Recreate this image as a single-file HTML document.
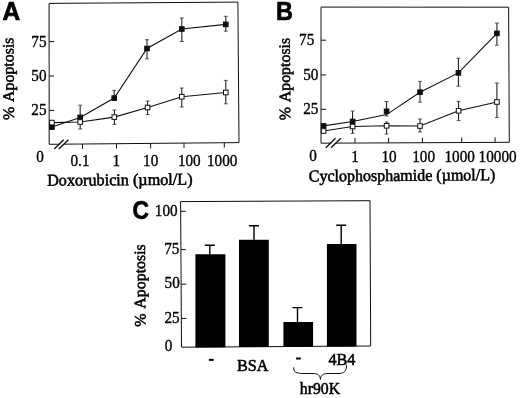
<!DOCTYPE html>
<html><head><meta charset="utf-8"><title>Figure</title>
<style>html,body{margin:0;padding:0;background:#fff}svg{display:block}</style></head>
<body><svg width="520" height="398" viewBox="0 0 520 398">
<defs><filter id="soft" x="0" y="0" width="520" height="398" filterUnits="userSpaceOnUse"><feGaussianBlur stdDeviation="0.3"/></filter></defs>
<rect width="520" height="398" fill="#fff"/>
<g filter="url(#soft)">
<path d="M49.1 3.4L237.9 2.1L239 142.6L49.2 144.3Z" fill="none" stroke="#111" stroke-width="1"/>
<path d="M49.1 41.6h5" stroke="#111" stroke-width="1"/>
<path d="M49.1 76h5" stroke="#111" stroke-width="1"/>
<path d="M49.1 110.4h5" stroke="#111" stroke-width="1"/>
<path d="M82.5 144.0V148.9" stroke="#111" stroke-width="1"/>
<path d="M116.5 143.7V148.6" stroke="#111" stroke-width="1"/>
<path d="M150.6 143.4V148.3" stroke="#111" stroke-width="1"/>
<path d="M184 143.1V148.0" stroke="#111" stroke-width="1"/>
<path d="M224.3 142.7V147.6" stroke="#111" stroke-width="1"/>
<path d="M56.6 149l9.5-9.3" stroke="#fff" stroke-width="2.6"/>
<path d="M54.3 149l9.4-9.3M58.8 149l9.7-9.3" stroke="#111" stroke-width="1.3"/>
<polyline points="51.9,127.1 80.2,117.4 114.2,98.1 147.0,48.5 181.8,29.0 225.8,24.4" fill="none" stroke="#111" stroke-width="1.1"/>
<polyline points="51.9,122.6 80.2,122.0 114.3,117.1 147.6,107.5 181.8,96.7 225.8,92.5" fill="none" stroke="#111" stroke-width="1.1"/>
<path d="M80.2 105.2V118.0" stroke="#111" stroke-width="1" fill="none"/><path d="M78.2 105.2H82.2M78.2 118.0H82.2" stroke="#333" stroke-width="0.8" fill="none"/>
<path d="M114.2 90.4V98.0" stroke="#111" stroke-width="1" fill="none"/><path d="M112.2 90.4H116.2M112.2 98.0H116.2" stroke="#333" stroke-width="0.8" fill="none"/>
<path d="M147.0 39.7V58.8" stroke="#111" stroke-width="1" fill="none"/><path d="M145.0 39.7H149.0M145.0 58.8H149.0" stroke="#333" stroke-width="0.8" fill="none"/>
<path d="M181.8 18.0V41.5" stroke="#111" stroke-width="1" fill="none"/><path d="M179.8 18.0H183.8M179.8 41.5H183.8" stroke="#333" stroke-width="0.8" fill="none"/>
<path d="M225.8 16.3V31.2" stroke="#111" stroke-width="1" fill="none"/><path d="M223.8 16.3H227.8M223.8 31.2H227.8" stroke="#333" stroke-width="0.8" fill="none"/>
<path d="M80.2 118.0V129.0" stroke="#111" stroke-width="1" fill="none"/><path d="M78.2 118.0H82.2M78.2 129.0H82.2" stroke="#333" stroke-width="0.8" fill="none"/>
<path d="M114.4 110.0V124.4" stroke="#111" stroke-width="1" fill="none"/><path d="M112.4 110.0H116.4M112.4 124.4H116.4" stroke="#333" stroke-width="0.8" fill="none"/>
<path d="M147.6 101.0V114.6" stroke="#111" stroke-width="1" fill="none"/><path d="M145.6 101.0H149.6M145.6 114.6H149.6" stroke="#333" stroke-width="0.8" fill="none"/>
<path d="M181.8 88.0V107.0" stroke="#111" stroke-width="1" fill="none"/><path d="M179.8 88.0H183.8M179.8 107.0H183.8" stroke="#333" stroke-width="0.8" fill="none"/>
<path d="M225.8 80.4V103.8" stroke="#111" stroke-width="1" fill="none"/><path d="M223.8 80.4H227.8M223.8 103.8H227.8" stroke="#333" stroke-width="0.8" fill="none"/>
<rect x="49.6" y="124.8" width="4.6" height="4.6" fill="#111" stroke="#111" stroke-width="1"/>
<rect x="77.9" y="115.1" width="4.6" height="4.6" fill="#111" stroke="#111" stroke-width="1"/>
<rect x="111.9" y="95.8" width="4.6" height="4.6" fill="#111" stroke="#111" stroke-width="1"/>
<rect x="144.7" y="46.2" width="4.6" height="4.6" fill="#111" stroke="#111" stroke-width="1"/>
<rect x="179.5" y="26.7" width="4.6" height="4.6" fill="#111" stroke="#111" stroke-width="1"/>
<rect x="223.5" y="22.1" width="4.6" height="4.6" fill="#111" stroke="#111" stroke-width="1"/>
<rect x="49.6" y="120.3" width="4.6" height="4.6" fill="#fff" stroke="#111" stroke-width="1"/>
<rect x="77.9" y="119.7" width="4.6" height="4.6" fill="#fff" stroke="#111" stroke-width="1"/>
<rect x="112.0" y="114.8" width="4.6" height="4.6" fill="#fff" stroke="#111" stroke-width="1"/>
<rect x="145.3" y="105.2" width="4.6" height="4.6" fill="#fff" stroke="#111" stroke-width="1"/>
<rect x="179.5" y="94.4" width="4.6" height="4.6" fill="#fff" stroke="#111" stroke-width="1"/>
<rect x="223.5" y="90.2" width="4.6" height="4.6" fill="#fff" stroke="#111" stroke-width="1"/>
<path d="M321 7.1L508.6 7.2L509.3 142.3L321 143.2Z" fill="none" stroke="#111" stroke-width="1"/>
<path d="M321 40.2h5" stroke="#111" stroke-width="1"/>
<path d="M321 74.9h5" stroke="#111" stroke-width="1"/>
<path d="M321 109.3h5" stroke="#111" stroke-width="1"/>
<path d="M355 143.0V138.0" stroke="#111" stroke-width="1"/>
<path d="M388.6 142.9V137.9" stroke="#111" stroke-width="1"/>
<path d="M422.4 142.7V137.7" stroke="#111" stroke-width="1"/>
<path d="M461.7 142.5V137.5" stroke="#111" stroke-width="1"/>
<path d="M495.1 142.4V137.4" stroke="#111" stroke-width="1"/>
<path d="M328.4 147.8l9.7-9.6" stroke="#fff" stroke-width="2.6"/>
<path d="M325.8 147.8l9.7-9.6M331 147.8l9.9-9.6" stroke="#111" stroke-width="1.3"/>
<polyline points="323.6,125.9 352.6,121.5 386.6,114.6 420.0,92.2 458.4,72.9 496.9,33.4" fill="none" stroke="#111" stroke-width="1.1"/>
<polyline points="323.6,131.0 352.6,126.5 386.6,125.8 420.0,126.0 458.6,110.8 496.9,102.0" fill="none" stroke="#111" stroke-width="1.1"/>
<path d="M352.6 111.0V124.0" stroke="#111" stroke-width="1" fill="none"/><path d="M350.6 111.0H354.6M350.6 124.0H354.6" stroke="#333" stroke-width="0.8" fill="none"/>
<path d="M386.6 101.5V116.0" stroke="#111" stroke-width="1" fill="none"/><path d="M384.6 101.5H388.6M384.6 116.0H388.6" stroke="#333" stroke-width="0.8" fill="none"/>
<path d="M420.0 81.4V102.2" stroke="#111" stroke-width="1" fill="none"/><path d="M418.0 81.4H422.0M418.0 102.2H422.0" stroke="#333" stroke-width="0.8" fill="none"/>
<path d="M458.4 58.3V86.2" stroke="#111" stroke-width="1" fill="none"/><path d="M456.4 58.3H460.4M456.4 86.2H460.4" stroke="#333" stroke-width="0.8" fill="none"/>
<path d="M496.9 23.1V45.2" stroke="#111" stroke-width="1" fill="none"/><path d="M494.9 23.1H498.9M494.9 45.2H498.9" stroke="#333" stroke-width="0.8" fill="none"/>
<path d="M352.6 123.0V133.4" stroke="#111" stroke-width="1" fill="none"/><path d="M350.6 123.0H354.6M350.6 133.4H354.6" stroke="#333" stroke-width="0.8" fill="none"/>
<path d="M386.6 122.0V134.0" stroke="#111" stroke-width="1" fill="none"/><path d="M384.6 122.0H388.6M384.6 134.0H388.6" stroke="#333" stroke-width="0.8" fill="none"/>
<path d="M420.0 119.0V132.0" stroke="#111" stroke-width="1" fill="none"/><path d="M418.0 119.0H422.0M418.0 132.0H422.0" stroke="#333" stroke-width="0.8" fill="none"/>
<path d="M458.6 101.3V120.6" stroke="#111" stroke-width="1" fill="none"/><path d="M456.6 101.3H460.6M456.6 120.6H460.6" stroke="#333" stroke-width="0.8" fill="none"/>
<path d="M496.9 83.0V117.6" stroke="#111" stroke-width="1" fill="none"/><path d="M494.9 83.0H498.9M494.9 117.6H498.9" stroke="#333" stroke-width="0.8" fill="none"/>
<rect x="321.3" y="123.6" width="4.6" height="4.6" fill="#111" stroke="#111" stroke-width="1"/>
<rect x="350.3" y="119.2" width="4.6" height="4.6" fill="#111" stroke="#111" stroke-width="1"/>
<rect x="384.3" y="109.0" width="4.6" height="4.6" fill="#111" stroke="#111" stroke-width="1"/>
<rect x="417.7" y="89.9" width="4.6" height="4.6" fill="#111" stroke="#111" stroke-width="1"/>
<rect x="456.1" y="70.6" width="4.6" height="4.6" fill="#111" stroke="#111" stroke-width="1"/>
<rect x="494.6" y="31.1" width="4.6" height="4.6" fill="#111" stroke="#111" stroke-width="1"/>
<rect x="321.3" y="128.7" width="4.6" height="4.6" fill="#fff" stroke="#111" stroke-width="1"/>
<rect x="350.3" y="124.2" width="4.6" height="4.6" fill="#fff" stroke="#111" stroke-width="1"/>
<rect x="384.3" y="123.5" width="4.6" height="4.6" fill="#fff" stroke="#111" stroke-width="1"/>
<rect x="417.7" y="123.7" width="4.6" height="4.6" fill="#fff" stroke="#111" stroke-width="1"/>
<rect x="456.3" y="108.5" width="4.6" height="4.6" fill="#fff" stroke="#111" stroke-width="1"/>
<rect x="494.6" y="99.7" width="4.6" height="4.6" fill="#fff" stroke="#111" stroke-width="1"/>
<path d="M180.6 201.6L370 200.7L370.7 346L181.5 347.2Z" fill="none" stroke="#111" stroke-width="1"/>
<path d="M180.7 211.3h5" stroke="#111" stroke-width="1"/>
<path d="M180.9 249.6h5" stroke="#111" stroke-width="1"/>
<path d="M181.1 284.2h5" stroke="#111" stroke-width="1"/>
<path d="M181.3 318.4h5" stroke="#111" stroke-width="1"/>
<path d="M195.4 254.3H225.4V347.2L195.4 347.4Z" fill="#000"/>
<path d="M209.8 254.3V245.3M204.8 245.3H214.8" stroke="#000" stroke-width="1.4" fill="none"/>
<path d="M239 239.7H268.8V346.9L239 347.1Z" fill="#000"/>
<path d="M254 239.7V225.7M249 225.7H259" stroke="#000" stroke-width="1.4" fill="none"/>
<path d="M283.4 322.1H313.1V346.7L283.4 346.9Z" fill="#000"/>
<path d="M297.5 322.1V307.6M292.5 307.6H302.5" stroke="#000" stroke-width="1.4" fill="none"/>
<path d="M326.9 244H356.5V346.4L326.9 346.6Z" fill="#000"/>
<path d="M341.2 244V225.2M336.2 225.2H346.2" stroke="#000" stroke-width="1.4" fill="none"/>
<rect x="208.9" y="358.9" width="4.7" height="2" fill="#000"/>
<rect x="296.1" y="357.5" width="4.6" height="2" fill="#000"/>
<path d="M293.6 367.4C293.6 371.8 296 373.5 303 373.5H313C318 373.5 320.4 375.5 320.4 379.6C320.4 375.5 322.8 373.5 328 373.5H338C344.5 373.5 346.6 371 346.6 364.6" fill="none" stroke="#111" stroke-width="1"/>
<g font-family="'Liberation Serif', serif" fill="#000" stroke="#000" stroke-width="0.55">
<text stroke-width="0.35" transform="translate(46.5,46.8) scale(0.97,1)" font-size="15.7" text-anchor="end">75</text>
<text stroke-width="0.35" transform="translate(46.5,81.2) scale(0.97,1)" font-size="15.7" text-anchor="end">50</text>
<text stroke-width="0.35" transform="translate(46.5,114.7) scale(0.97,1)" font-size="15.7" text-anchor="end">25</text>
<text stroke-width="0.35" transform="translate(40,162) scale(0.97,1)" font-size="15.7" text-anchor="middle">0</text>
<text stroke-width="0.35" transform="translate(80,165.6) scale(0.97,1)" font-size="15.7" text-anchor="middle">0.1</text>
<text stroke-width="0.35" transform="translate(116.3,165.6) scale(0.97,1)" font-size="15.7" text-anchor="middle">1</text>
<text stroke-width="0.35" transform="translate(150.7,165.6) scale(0.97,1)" font-size="15.7" text-anchor="middle">10</text>
<text stroke-width="0.35" transform="translate(189.3,165.6) scale(0.97,1)" font-size="15.7" text-anchor="middle">100</text>
<text stroke-width="0.35" transform="translate(222.2,165.6) scale(0.97,1)" font-size="15.7" text-anchor="middle">1000</text>
<text transform="translate(47.2,185.7) rotate(-0.4) scale(0.975,1)" font-size="16.6" text-anchor="start">Doxorubicin (µmol/L)</text>
<text word-spacing="1.7" transform="translate(13.9,120) rotate(-90.4)" font-size="15.9" text-anchor="start">% Apoptosis</text>
<text stroke-width="0.35" transform="translate(314.3,45) scale(0.97,1)" font-size="15.7" text-anchor="end">75</text>
<text stroke-width="0.35" transform="translate(318.4,80.2) scale(0.97,1)" font-size="15.7" text-anchor="end">50</text>
<text stroke-width="0.35" transform="translate(318.4,114) scale(0.97,1)" font-size="15.7" text-anchor="end">25</text>
<text stroke-width="0.35" transform="translate(313,160.5) scale(0.97,1)" font-size="15.7" text-anchor="middle">0</text>
<text stroke-width="0.35" transform="translate(355,161.8) scale(0.97,1)" font-size="15.7" text-anchor="middle">1</text>
<text stroke-width="0.35" transform="translate(389,161.8) scale(0.97,1)" font-size="15.7" text-anchor="middle">10</text>
<text stroke-width="0.35" transform="translate(423.6,161.8) scale(0.97,1)" font-size="15.7" text-anchor="middle">100</text>
<text stroke-width="0.35" transform="translate(459.7,161.8) scale(0.97,1)" font-size="15.7" text-anchor="middle">1000</text>
<text stroke-width="0.35" transform="translate(497.6,161.8) scale(0.97,1)" font-size="15.7" text-anchor="middle">10000</text>
<text transform="translate(308.8,181.5) rotate(-0.4) scale(0.965,1)" font-size="16.6" text-anchor="start">Cyclophosphamide (µmol/L)</text>
<text word-spacing="1.7" transform="translate(290.3,120.3) rotate(-90.4)" font-size="15.9" text-anchor="start">% Apoptosis</text>
<text stroke-width="0.35" transform="translate(177.7,215.8) scale(0.97,1)" font-size="15.7" text-anchor="end">100</text>
<text stroke-width="0.35" transform="translate(179.4,253.6) scale(0.97,1)" font-size="15.7" text-anchor="end">75</text>
<text stroke-width="0.35" transform="translate(179.8,288.1) scale(0.97,1)" font-size="15.7" text-anchor="end">50</text>
<text stroke-width="0.35" transform="translate(179.7,323) scale(0.97,1)" font-size="15.7" text-anchor="end">25</text>
<text stroke-width="0.35" transform="translate(168.5,351) scale(0.97,1)" font-size="15.7" text-anchor="middle">0</text>
<text transform="translate(236.9,370.9) scale(0.975,1)" font-size="16.6" text-anchor="start">BSA</text>
<text transform="translate(328.5,364.8) scale(0.975,1)" font-size="16.6" text-anchor="start">4B4</text>
<text transform="translate(299.8,393.6) scale(0.95,1)" font-size="16.6" text-anchor="start">hr90K</text>
<text word-spacing="1.7" transform="translate(145.5,326.7) rotate(-90.4)" font-size="15.9" text-anchor="start">% Apoptosis</text>
</g>
<g font-family="'Liberation Sans', sans-serif" font-weight="bold" fill="#000" stroke="#000" stroke-width="0.7">
<text transform="translate(2.4,19.9) scale(0.958,1)" font-size="25.5" text-anchor="start">A</text>
<text transform="translate(276,19.6) scale(0.885,1)" font-size="26.5" text-anchor="start">B</text>
<text transform="translate(132.4,218.9) scale(0.885,1)" font-size="25.8" text-anchor="start">C</text>
</g>
</g>
</svg></body></html>
